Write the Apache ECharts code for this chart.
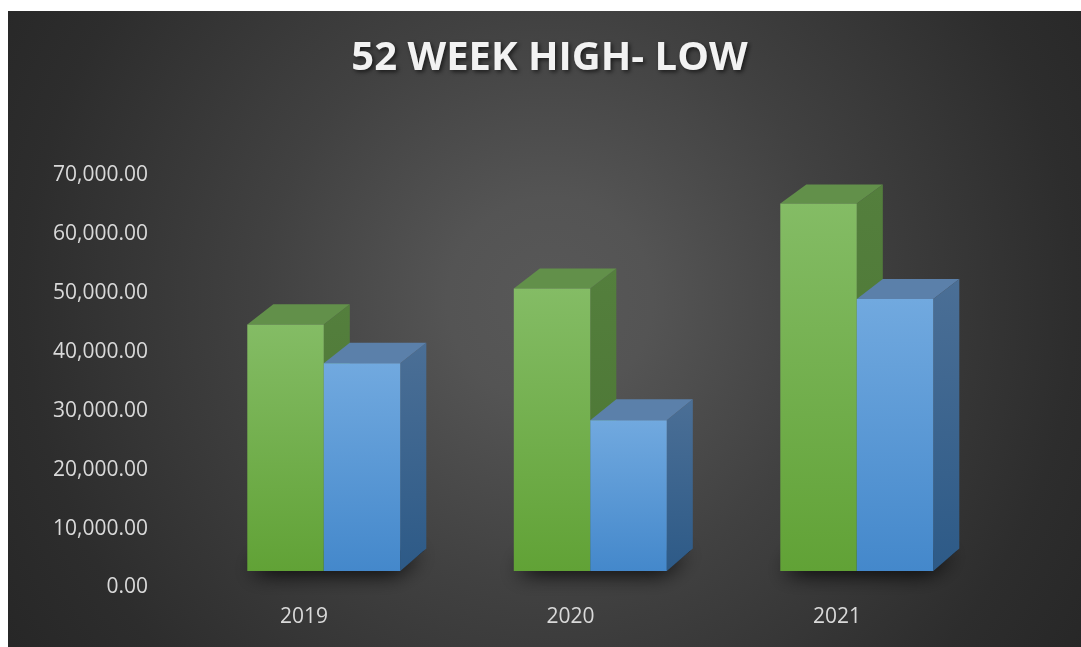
<!DOCTYPE html>
<html>
<head>
<meta charset="utf-8">
<style>
  html, body { margin: 0; padding: 0; background: #ffffff; }
  #chart { width: 1081px; height: 647px; }
</style>
<script src="https://cdn.jsdelivr.net/npm/echarts@6/dist/echarts.min.js"></script>
</head>
<body>
<div id="chart"></div>
<script>
// ---- data ----
const categories = ['2019', '2020', '2021'];
const highValues = [41850, 47950, 62350];
const lowValues = [35250, 25580, 46160];
const yMin = 0;
const yMax = 70000;
const yStep = 10000;
const titleText = '52 WEEK HIGH- LOW';

// ---- helpers ----
function fmt(v) {
  const s = Math.round(v).toString().replace(/\B(?=(\d{3})+(?!\d))/g, ',');
  return s + '.00';
}
const BAR_W = 76.5;
const BAR_OFFSETS = [-56.7, -56.7 + 76.5];
const LIFT = 16.5;
const DX = 26;
function depthY(y) { return -(19 + 3.5 * (y - 190) / 380); }

const palettes = [
  { frontTop: '#84bc65', frontBot: '#61a236', top: '#62904a', sideTop: '#547f3d', sideBot: '#4a7432' },
  { frontTop: '#71a9df', frontBot: '#4488cb', top: '#5b80aa', sideTop: '#4b6f96', sideBot: '#2d5a87' }
];

function boxGeom(api, k) {
  const idx = api.value(0), val = api.value(1);
  const base = api.coord([idx, 0]);
  const top = api.coord([idx, val]);
  const x0 = base[0] + BAR_OFFSETS[k], x1 = x0 + BAR_W;
  const yb = base[1] - LIFT, yt = top[1] - LIFT;
  return { x0, x1, yb, yt, dyT: depthY(yt), dyB: depthY(yb) };
}

function makeRender(k) {
  const p = palettes[k];
  return function (params, api) {
    const g = boxGeom(api, k);
    const lin = (c1, c2) => new echarts.graphic.LinearGradient(0, 0, 0, 1, [
      { offset: 0, color: c1 }, { offset: 1, color: c2 }
    ]);
    return {
      type: 'group',
      children: [
        { type: 'polygon', z2: 1,
          shape: { points: [[g.x1, g.yt], [g.x1 + DX, g.yt + g.dyT], [g.x1 + DX, g.yb + g.dyB], [g.x1, g.yb]] },
          style: { fill: lin(p.sideTop, p.sideBot) } },
        { type: 'polygon', z2: 2,
          shape: { points: [[g.x0, g.yt], [g.x1, g.yt], [g.x1 + DX, g.yt + g.dyT], [g.x0 + DX, g.yt + g.dyT]] },
          style: { fill: p.top } },
        { type: 'rect', z2: 3,
          shape: { x: g.x0, y: g.yt, width: BAR_W, height: g.yb - g.yt },
          style: { fill: lin(p.frontTop, p.frontBot) } }
      ]
    };
  };
}

function renderShadow(params, api) {
  const idx = api.value(0);
  const base = api.coord([idx, 0]);
  const x0 = base[0] + BAR_OFFSETS[0];
  const x1 = base[0] + BAR_OFFSETS[1] + BAR_W;
  const yb = base[1] - LIFT;
  const dyB = depthY(yb);
  return {
    type: 'polygon',
    shape: { points: [[x0 + 6, yb - 1], [x1, yb - 1], [x1 + DX - 2, yb + dyB + 2], [x0 + DX, yb + dyB + 2]] },
    style: { fill: '#111111', shadowBlur: 22, shadowColor: 'rgba(0,0,0,1)', shadowOffsetX: -4, shadowOffsetY: 3 }
  };
}

const chart = echarts.init(document.getElementById('chart'), null, { renderer: 'canvas' });
chart.setOption({
  backgroundColor: '#ffffff',
  animation: false,
  graphic: [
    {
      type: 'rect', z: -10, silent: true,
      shape: { x: 8, y: 11, width: 1073, height: 636 },
      style: {
        fill: {
          type: 'radial', x: 550, y: 300, r: 640, global: true,
          colorStops: [
            { offset: 0, color: '#585858' },
            { offset: 0.16, color: '#545454' },
            { offset: 0.45, color: '#414141' },
            { offset: 0.82, color: '#2d2d2d' },
            { offset: 1, color: '#272727' }
          ]
        }
      }
    },
    {
      type: 'text', z: 10, silent: true,
      x: 549.5, y: 59,
      style: {
        text: titleText,
        fill: '#f2f2f2',
        font: 'bold 40px "Open Sans"',
        textAlign: 'center',
        textVerticalAlign: 'middle',
        textShadowColor: 'rgba(0,0,0,0.6)',
        textShadowBlur: 4,
        textShadowOffsetX: 2,
        textShadowOffsetY: 2
      }
    }
  ],
  grid: { left: 170.75, right: 110.75, top: 175, bottom: 59.5, containLabel: false },
  xAxis: {
    type: 'category',
    data: categories,
    axisLine: { show: false },
    axisTick: { show: false },
    splitLine: { show: false },
    axisLabel: { color: '#d9d9d9', fontFamily: 'Open Sans', fontSize: 21, margin: 19 }
  },
  yAxis: {
    type: 'value',
    min: yMin, max: yMax, interval: yStep,
    axisLine: { show: false },
    axisTick: { show: false },
    splitLine: { show: false },
    axisLabel: { color: '#d9d9d9', fontFamily: 'Open Sans', fontSize: 21, margin: 22.75, formatter: fmt }
  },
  series: [
    {
      type: 'custom', name: 'shadow', z: 1, silent: true,
      renderItem: renderShadow,
      data: categories.map((c, i) => [i, 0])
    },
    {
      type: 'custom', name: '52 Week High', z: 2,
      renderItem: makeRender(0),
      data: highValues.map((v, i) => [i, v])
    },
    {
      type: 'custom', name: '52 Week Low', z: 3,
      renderItem: makeRender(1),
      data: lowValues.map((v, i) => [i, v])
    }
  ]
});
</script>
</body>
</html>
